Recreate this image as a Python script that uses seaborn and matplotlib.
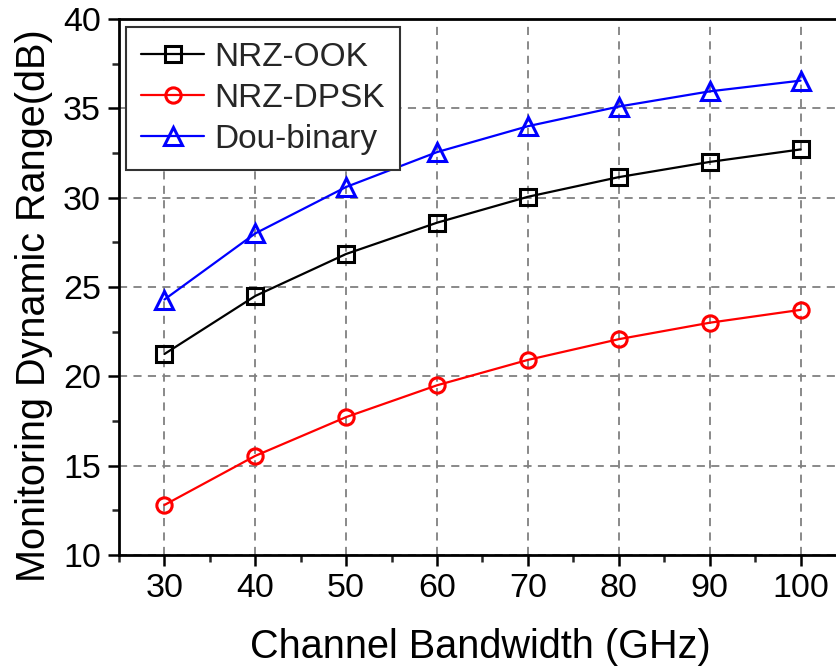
import matplotlib
matplotlib.use("Agg")
import matplotlib.pyplot as plt
import seaborn as sns
import pandas as pd
from matplotlib.ticker import MultipleLocator

bandwidth = [30, 40, 50, 60, 70, 80, 90, 100]
nrz_ook = [21.25, 24.5, 26.85, 28.6, 30.05, 31.15, 32.0, 32.7]
nrz_dpsk = [12.8, 15.55, 17.72, 19.5, 20.92, 22.08, 23.0, 23.72]
dou_binary = [24.3, 28.0, 30.6, 32.55, 34.0, 35.1, 35.95, 36.55]

series_names = ["NRZ-OOK", "NRZ-DPSK", "Dou-binary"]
series_values = [nrz_ook, nrz_dpsk, dou_binary]
colors = ["#000000", "#ff0000", "#0000ff"]
markers = ["s", "o", "^"]

sns.set_theme(style="white")
plt.rcParams["font.family"] = ["Liberation Sans", "DejaVu Sans"]

fig = plt.figure(figsize=(8.36, 6.71), dpi=100)
ax = fig.add_axes([119/836, 116/671, (846-119)/836, 536/671])

for name, vals, c, m in zip(series_names, series_values, colors, markers):
    df = pd.DataFrame({"x": bandwidth, "y": vals})
    sns.lineplot(data=df, x="x", y="y", ax=ax, color=c, marker=m,
                 markersize=11 if m != "^" else 13, markerfacecolor="none",
                 markeredgecolor=c, markeredgewidth=2.2, linewidth=1.6,
                 label=name)

ax.set_xlim(25, 105)
ax.set_ylim(10, 40)
ax.xaxis.set_major_locator(MultipleLocator(10))
ax.xaxis.set_minor_locator(MultipleLocator(5))
ax.yaxis.set_major_locator(MultipleLocator(5))
ax.yaxis.set_minor_locator(MultipleLocator(2.5))
ax.tick_params(which="major", direction="out", length=8, width=1.8,
               labelsize=24.5, colors="black", bottom=True, left=True, pad=5)
ax.tick_params(which="minor", direction="out", length=5, width=1.8,
               bottom=True, left=True)
ax.grid(True, which="major", linestyle=(0, (4.5, 3.5)), color="#808080", linewidth=1.3)

for s in ["left", "bottom", "top"]:
    ax.spines[s].set_visible(True)
    ax.spines[s].set_color("black")
    ax.spines[s].set_linewidth(2)
ax.spines["right"].set_visible(False)

ax.set_xlabel("Channel Bandwidth (GHz)", fontsize=28.5, color="black")
ax.set_ylabel("Monitoring Dynamic Range(dB)", fontsize=28.5, color="black")
ax.xaxis.set_label_coords(0.4966, -0.136)
ax.yaxis.set_label_coords(-0.091, 0.4646)

leg = ax.legend(loc="upper left", bbox_to_anchor=(0.0096, 0.985), borderaxespad=0,
                fontsize=24, handlelength=1.9, frameon=True, fancybox=False,
                edgecolor="#333333", framealpha=1, borderpad=0.45, labelspacing=0.3,
                handletextpad=0.3)
leg.get_frame().set_linewidth(1.5)

fig.savefig("out.png", dpi=100)
